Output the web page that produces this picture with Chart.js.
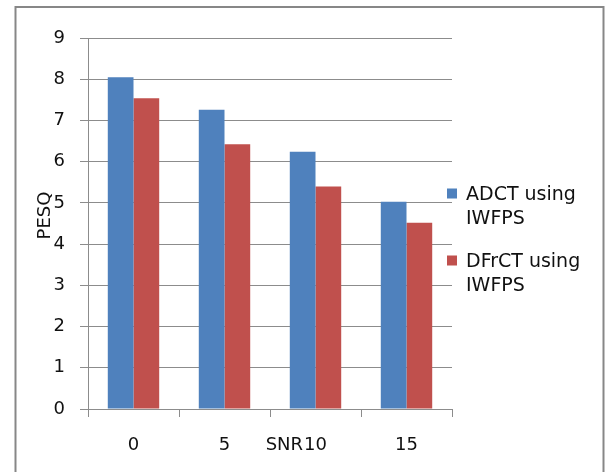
<!DOCTYPE html>
<html>
<head>
<meta charset="utf-8">
<script src="https://cdn.jsdelivr.net/npm/chart.js@4/dist/chart.umd.min.js"></script>
<style>
  html, body { margin: 0; padding: 0; background: #fff; }
  #wrap { width: 605px; height: 472px; position: relative; }
</style>
</head>
<body>
<div id="wrap"><canvas id="c" width="605" height="472"></canvas></div>
<script>
// SNR levels (dB) on the category axis
const snrLevels = ['0', '5', '10', '15'];
// PESQ scores per method
const adctPesq = [8.05, 7.26, 6.24, 5.03];
const dfrctPesq = [7.54, 6.42, 5.40, 4.52];
// Legend names, one entry per series, split over two lines
const seriesNames = [['ADCT using', 'IWFPS'], ['DFrCT using', 'IWFPS']];
const seriesColors = ['#4f81bd', '#c0504d'];
// Value axis range
const pesqMin = 0;
const pesqMax = 9;
const pesqStep = 1;
const xTitle = 'SNR';
const yTitle = 'PESQ';

const FONT = 'DejaVu Sans';
const TEXT = '#111';
const GRID = '#8c8c8c';
const TICK_PAD_X = 18;
const TICK_LEN = 8;

// Frame, axis titles and the two-line legend
const decorations = {
  id: 'decorations',
  beforeDraw(chart) {
    const ctx = chart.ctx;
    ctx.save();
    ctx.fillStyle = '#fff';
    ctx.fillRect(0, 0, chart.width, chart.height);
    ctx.strokeStyle = '#878787';
    ctx.lineWidth = 2;
    ctx.strokeRect(15.5, 7, 588, 490);
    ctx.restore();
  },
  afterDraw(chart) {
    const ctx = chart.ctx;
    const xs = chart.scales.x;
    const area = chart.chartArea;
    ctx.save();
    ctx.fillStyle = TEXT;
    ctx.font = '18px "' + FONT + '"';
    ctx.textBaseline = 'middle';

    // x-axis title, set on the tick-label row just left of the third label
    const labelY = xs.top + TICK_LEN + TICK_PAD_X + 18 * 1.2 / 2;
    const third = xs.getPixelForValue(2);
    ctx.textAlign = 'right';
    ctx.fillText(xTitle, third - ctx.measureText(snrLevels[2]).width / 2 - 1, labelY);

    // y-axis title, rotated
    ctx.save();
    ctx.translate(45, (area.top + area.bottom) / 2 - 8);
    ctx.rotate(-Math.PI / 2);
    ctx.textAlign = 'center';
    ctx.fillText(yTitle, 0, 0);
    ctx.restore();

    // legend
    ctx.font = '19px "' + FONT + '"';
    ctx.textAlign = 'left';
    const boxX = 447, textX = 466;
    const firstY = [195, 262];
    chart.data.datasets.forEach((ds, i) => {
      const y0 = firstY[i];
      ctx.fillStyle = ds.backgroundColor;
      ctx.fillRect(boxX, y0 - 6.5, 10, 10);
      ctx.fillStyle = TEXT;
      ds.label.forEach((line, j) => ctx.fillText(line, textX, y0 + j * 24.5));
    });
    ctx.restore();
  }
};

new Chart(document.getElementById('c'), {
  type: 'bar',
  data: {
    labels: snrLevels,
    datasets: [
      { label: seriesNames[0], data: adctPesq, backgroundColor: seriesColors[0] },
      { label: seriesNames[1], data: dfrctPesq, backgroundColor: seriesColors[1] }
    ]
  },
  options: {
    responsive: false,
    animation: false,
    devicePixelRatio: 1,
    categoryPercentage: 0.565,
    barPercentage: 1.0,
    layout: { padding: { top: 38, right: 153, bottom: 0, left: 0 } },
    plugins: { legend: { display: false }, tooltip: { enabled: false } },
    scales: {
      x: {
        offset: true,
        grid: { offset: true, drawOnChartArea: false, drawTicks: true, tickLength: TICK_LEN, color: GRID, lineWidth: 1 },
        border: { color: GRID, width: 1 },
        ticks: { font: { family: FONT, size: 18 }, color: TEXT, padding: TICK_PAD_X, maxRotation: 0 },
        afterFit(s) { s.height = 63; }
      },
      y: {
        min: pesqMin,
        max: pesqMax,
        grid: { color: GRID, lineWidth: 1, tickLength: TICK_LEN },
        border: { color: GRID, width: 1 },
        ticks: { stepSize: pesqStep, font: { family: FONT, size: 18 }, color: TEXT, padding: 15 },
        afterFit(s) { s.width = 88; }
      }
    }
  },
  plugins: [decorations]
});
</script>
</body>
</html>
